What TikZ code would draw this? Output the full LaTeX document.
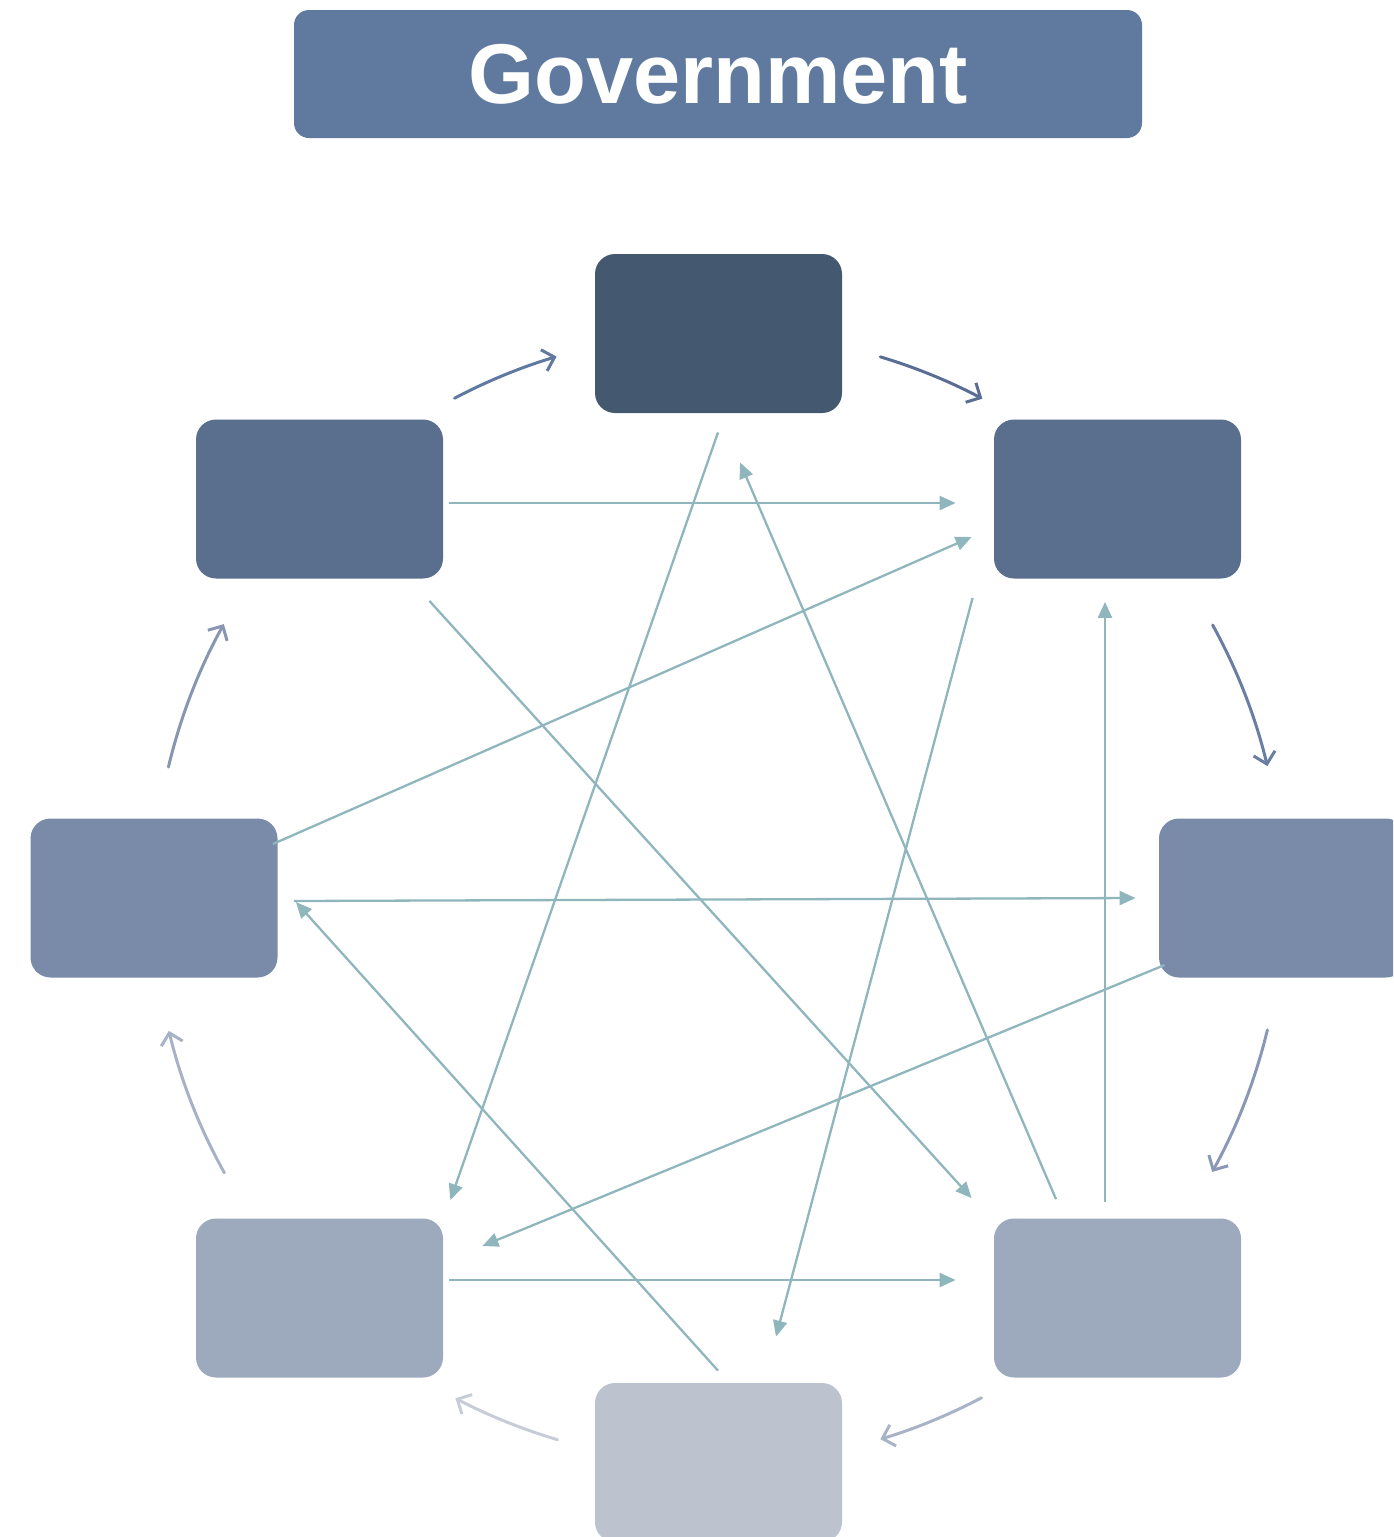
\documentclass[tikz,border=0pt]{standalone}
\usepackage{fontspec}
\setmainfont{Liberation Sans}
\usetikzlibrary{arrows.meta,calc}
\definecolor{titlec}{HTML}{5F7A9E}
\definecolor{boxtop}{HTML}{445870}
\definecolor{boxup}{HTML}{5A6E8E}
\definecolor{boxmid}{HTML}{7A8BA9}
\definecolor{boxlow}{HTML}{9DA9BD}
\definecolor{boxbot}{HTML}{BCC3CF}
\definecolor{teal}{HTML}{8FB5BD}
\definecolor{ca}{HTML}{6079A1}
\definecolor{cb}{HTML}{5A6E94}
\definecolor{cc}{HTML}{6A7EA3}
\definecolor{cd}{HTML}{8A98B6}
\definecolor{ce}{HTML}{A9B3C8}
\definecolor{cf}{HTML}{C8CCD8}
\definecolor{cg}{HTML}{A8B2C6}
\definecolor{ch}{HTML}{8996B2}
\begin{document}
\begin{tikzpicture}[x=0.5pt,y=-0.5pt,
  stepbox/.style={rounded corners=10pt, minimum width=123.5pt, minimum height=79.5pt, inner sep=0pt},
  tline/.style={draw=teal, line width=1.15pt, -{Triangle[length=8pt,width=7pt]}},
  cyc/.style={line width=1.5pt, line cap=round, -{Straight Barb[length=5.5pt,width=11pt,line width=1.5pt]}}]
\useasboundingbox (0,0) rectangle (1393,1537);
\clip (0,0) rectangle (1393,1537);
\node[fill=titlec, rounded corners=7.5pt, minimum width=424pt, minimum height=64pt, inner sep=0pt,
  text=white, font=\bfseries\fontsize{42.4}{50}\selectfont] (title) at (718,74) {Government};
\node[stepbox, fill=boxtop] (top) at (718.5,333.5) {};
\node[stepbox, fill=boxup] (ul) at (319.5,499) {};
\node[stepbox, fill=boxup] (ur) at (1117.5,499) {};
\node[stepbox, fill=boxmid] (l) at (154,898) {};
\node[stepbox, fill=boxmid] (r) at (1282.5,898) {};
\node[stepbox, fill=boxlow] (ll) at (319.5,1298) {};
\node[stepbox, fill=boxlow] (lr) at (1117.5,1298) {};
\node[stepbox, fill=boxbot] (bot) at (718.5,1462.5) {};
\coordinate (c) at (718,898);
% cycle arrows
\draw[cyc, draw=ca] ($(c)+(-117.8:565)$) arc[start angle=-117.8, end angle=-106.6, radius=565];
\draw[cyc, draw=cb] ($(c)+(-73.3:565)$) arc[start angle=-73.3, end angle=-62.1, radius=565];
\draw[cyc, draw=cc] ($(c)+(-28.9:565)$) arc[start angle=-28.9, end angle=-13.5, radius=565];
\draw[cyc, draw=cd] ($(c)+(13.5:565)$) arc[start angle=13.5, end angle=29.0, radius=565];
\draw[cyc, draw=ce] ($(c)+(62.2:565)$) arc[start angle=62.2, end angle=73.3, radius=565];
\draw[cyc, draw=cf] ($(c)+(106.5:565)$) arc[start angle=106.5, end angle=117.7, radius=565];
\draw[cyc, draw=cg] ($(c)+(150.9:565)$) arc[start angle=150.9, end angle=166.4, radius=565];
\draw[cyc, draw=ch] ($(c)+(193.4:565)$) arc[start angle=193.4, end angle=209.0, radius=565];
% teal connectors
\draw[tline] ($(ul.east)+(6,4)$) -- ($(ur.west)+(-38,4)$);
\draw[tline] ($(l.east)+(-5,-54)$) -- ($(ur.west)+(-22,38)$);
\draw[tline] ($(l.east)+(16,3)$) -- ($(r.west)+(-23,0)$);
\draw[tline] ($(bot.north)+(-0.5,-12)$) -- ($(l.east)+(18,4)$);
\draw[tline] ($(top.south)+(-0.5,19)$) -- ($(ll.north east)+(7,-18)$);
\draw[tline] ($(ul.south east)+(-14,22)$) -- ($(lr.north west)+(-22,-20)$);
\draw[tline] ($(lr.north)+(-61.5,-19)$) -- ($(top.south)+(21.5,49)$);
\draw[tline] ($(ur.south west)+(-21,19)$) -- ($(bot.north)+(57.5,-46)$);
\draw[tline] ($(lr.north)+(-12.5,-16)$) -- ($(ur.south)+(-12.5,23)$);
\draw[tline] ($(r.west)+(6,67)$) -- ($(ll.east)+(39,-52)$);
\draw[tline] ($(ll.east)+(6,-18)$) -- ($(lr.west)+(-38,-18)$);
\end{tikzpicture}
\end{document}
